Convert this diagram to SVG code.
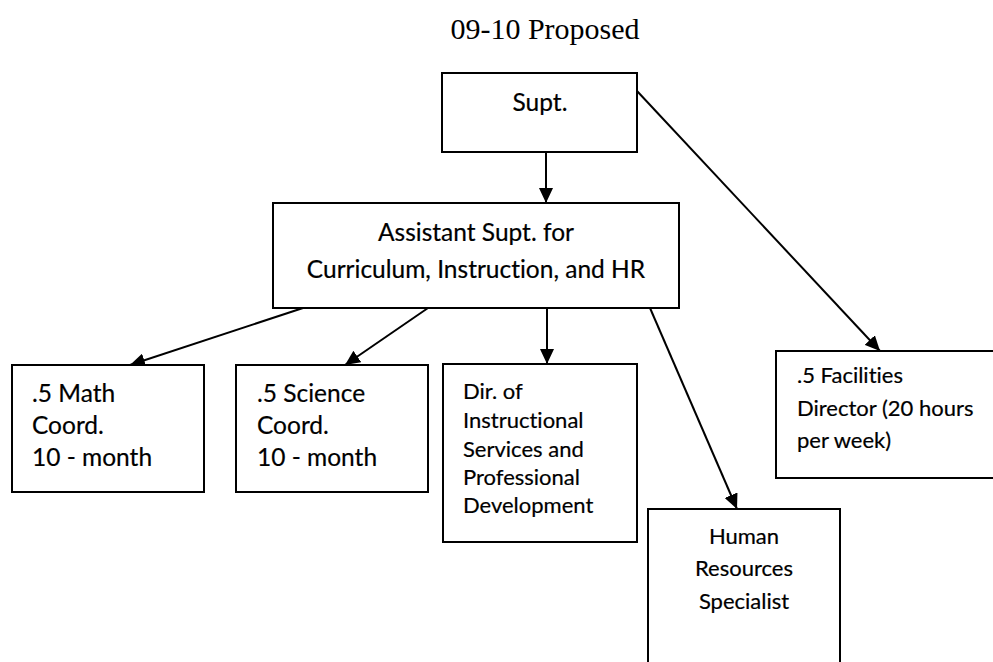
<svg xmlns="http://www.w3.org/2000/svg" width="993" height="662" viewBox="0 0 993 662">
<style>
.box{fill:#fff;stroke:#000;stroke-width:2}
.t,.s{font-family:Lato,"Liberation Sans",sans-serif;fill:#000;stroke:#000;stroke-width:0.2;font-variant-ligatures:none}
.t{font-size:24.5px}
.s{font-size:22px}
.c{text-anchor:middle}
.ln{stroke:#000;stroke-width:2;fill:none;marker-end:url(#ah)}
.title{font-family:"Liberation Serif","Times New Roman",serif;font-size:30px;fill:#000;text-anchor:middle}
</style>
<defs>
<marker id="ah" markerUnits="userSpaceOnUse" markerWidth="16" markerHeight="14" refX="15" refY="7" orient="auto">
<path d="M0,0 L15,7 L0,14 z" fill="#000"/>
</marker>
</defs>
<rect width="993" height="662" fill="#fff"/>
<text class="title" x="545" y="39">09-10 Proposed</text>
<g id="connectors">
<line class="ln" x1="546" y1="152" x2="546" y2="203"/>
<line class="ln" x1="637" y1="91" x2="880" y2="351"/>
<line class="ln" x1="303" y1="308" x2="130" y2="365"/>
<line class="ln" x1="428" y1="308" x2="345" y2="365"/>
<line class="ln" x1="547" y1="308" x2="547" y2="364"/>
<line class="ln" x1="650" y1="308" x2="737" y2="509"/>
</g>
<g id="supt">
<rect class="box" x="442" y="73" width="195" height="79"/>
<text class="t c" x="540" y="111">Supt.</text>
</g>
<g id="asst">
<rect class="box" x="273" y="203" width="406" height="105"/>
<text class="t c" x="476" y="241">Assistant Supt. for</text>
<text class="t c" x="476" y="278">Curriculum, Instruction, and HR</text>
</g>
<g id="math">
<rect class="box" x="12" y="365" width="192" height="127"/>
<text class="t" x="32" y="402">.5 Math</text>
<text class="t" x="32" y="434">Coord.</text>
<text class="t" x="32" y="466">10 - month</text>
</g>
<g id="science">
<rect class="box" x="236" y="365" width="192" height="127"/>
<text class="t" x="257" y="402">.5 Science</text>
<text class="t" x="257" y="434">Coord.</text>
<text class="t" x="257" y="466">10 - month</text>
</g>
<g id="dir">
<rect class="box" x="443" y="364" width="194" height="178"/>
<text class="s" x="463" y="399">Dir. of</text>
<text class="s" x="463" y="428">Instructional</text>
<text class="s" x="463" y="457">Services and</text>
<text class="s" x="463" y="485">Professional</text>
<text class="s" x="463" y="513">Development</text>
</g>
<g id="hr">
<rect class="box" x="648" y="509" width="192" height="170"/>
<text class="s c" x="744" y="544">Human</text>
<text class="s c" x="744" y="576">Resources</text>
<text class="s c" x="744" y="609">Specialist</text>
</g>
<g id="facilities">
<rect class="box" x="776" y="351" width="230" height="127"/>
<text class="s" x="797" y="383">.5 Facilities</text>
<text class="s" x="797" y="416">Director (20 hours</text>
<text class="s" x="797" y="448">per week)</text>
</g>
</svg>
